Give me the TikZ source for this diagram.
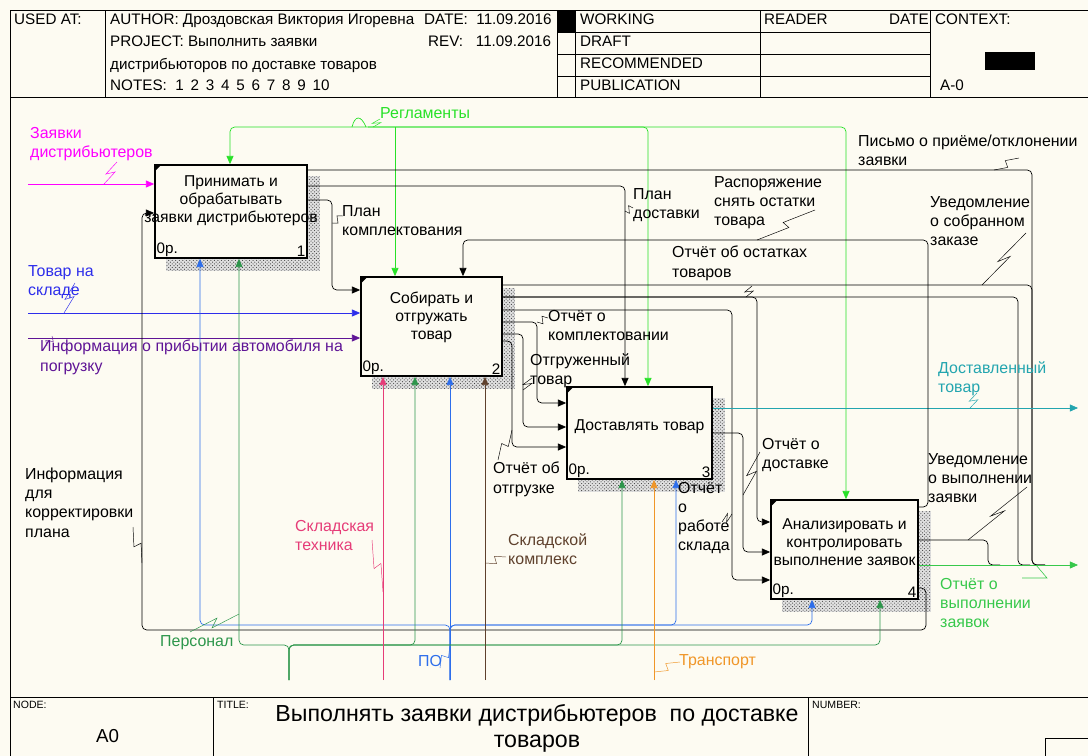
\documentclass[tikz,border=0pt]{standalone}
\usepackage{fontspec}
\setmainfont{Liberation Sans}
\usetikzlibrary{arrows.meta, calc, patterns, backgrounds, fit}

\definecolor{fondo}{RGB}{253,251,242}
\definecolor{cZayav}{RGB}{255,0,255}
\definecolor{cTovar}{RGB}{45,45,235}
\definecolor{cInfo}{RGB}{95,20,150}
\definecolor{cRegl}{RGB}{40,225,40}
\definecolor{cPers}{RGB}{45,150,75}
\definecolor{cOtch}{RGB}{55,200,75}
\definecolor{cDost}{RGB}{35,165,175}
\definecolor{cTekh}{RGB}{230,60,120}
\definecolor{cPO}{RGB}{45,110,235}
\definecolor{cKompl}{RGB}{95,65,45}
\definecolor{cTrans}{RGB}{240,150,40}

\begin{document}
\begin{tikzpicture}[
    x=0.03cm, y=-0.03cm,
    % estilos de cajas y textos
    caja/.style = {draw=black, line width=1.5pt, fill=fondo, inner sep=0pt},
    texto/.style = {align=center, inner sep=0pt, font=\fontsize{13.4}{15.5}\selectfont},
    num/.style = {inner sep=2pt, font=\fontsize{13}{14}\selectfont},
    etiq/.style = {align=left, anchor=north west, inner sep=0pt, font=\fontsize{13.6}{16.3}\selectfont},
    cab/.style = {anchor=north west, inner sep=0pt, font=\fontsize{13}{14}\selectfont},
    pie/.style = {anchor=north west, inner sep=0pt, font=\fontsize{9}{10}\selectfont},
    sombra/.style = {fill=black!12, postaction={pattern=crosshatch dots, pattern color=black!75}},
    % estilos de flechas
    flecha/.style = {line width=0.6pt, rounded corners=4pt, -{Triangle[length=7pt,width=6pt]}},
    linea/.style = {line width=0.6pt, rounded corners=4pt},
    zzv/.style = {line width=0.5pt, to path={-- ($(\tikztostart)!.55!(\tikztotarget)+(-4,0)$) -- ($(\tikztostart)!.45!(\tikztotarget)+(4,0)$) -- (\tikztotarget)}},
    zzh/.style = {line width=0.5pt, to path={-- ($(\tikztostart)!.55!(\tikztotarget)+(0,-4)$) -- ($(\tikztostart)!.45!(\tikztotarget)+(0,4)$) -- (\tikztotarget)}}
]
\useasboundingbox (0,0) rectangle (1088,756);

% ===============================
% 1. Marco, cabecera y pie
% ===============================
\draw[line width=0.8pt] (10,10) rectangle (1088,756);
\draw (10,97) -- (1088,97);
\draw (10,697) -- (1088,697);
\foreach \x in {105,557,575,760,930} \draw (\x,10) -- (\x,97);
\foreach \y in {32,54,76} \draw (557,\y) -- (930,\y);
\fill (557,10) rectangle (575,32);
\fill (985,52) rectangle (1035,70);
\foreach \x in {213,808} \draw (\x,697) -- (\x,756);
\draw (1045,738) rectangle (1088,756);

\node[cab] (hUsed) at (14,14) {USED AT:};
\node[cab] (hAut) at (110,14) {AUTHOR:\ Дроздовская Виктория Игоревна};
\node[cab] (hDat) at (424,14) {DATE:\ \ 11.09.2016};
\node[cab] (hPro) at (110,36) {PROJECT:\ Выполнить заявки};
\node[cab] (hRev) at (428,36) {REV:\ \ \ 11.09.2016};
\node[cab] (hPro2) at (110,58) {дистрибьюторов по доставке товаров};
\node[cab] (hNot) at (110,80) {NOTES:\ \ 1\ \,2\ \,3\ \,4\ \,5\ \,6\ \,7\ \,8\ \,9\ \,10};
\node[cab] (hWor) at (580,14) {WORKING};
\node[cab] (hDra) at (580,36) {DRAFT};
\node[cab] (hRec) at (580,58) {RECOMMENDED};
\node[cab] (hPub) at (580,80) {PUBLICATION};
\node[cab] (hRea) at (764,14) {READER};
\node[cab] (hDa2) at (889,14) {DATE};
\node[cab] (hCon) at (935,14) {CONTEXT:};
\node[cab] (hA0) at (940,80) {A-0};

\node[pie] (fNode) at (13,701) {NODE:};
\node[anchor=north west, inner sep=0pt, font=\fontsize{16}{18}\selectfont] (fA0) at (96,729) {A0};
\node[pie] (fTit) at (217,701) {TITLE:};
\node[anchor=north, align=center, inner sep=0pt, font=\fontsize{19.8}{22.5}\selectfont] (fTxt) at (537,704) {Выполнять заявки дистрибьютеров\ \ по доставке\\товаров};
\node[pie] (fNum) at (812,701) {NUMBER:};

% ===============================
% 2. Bloques de funciones
% ===============================
\node[caja, fit={(155,165) (307,258)}] (b1) {};
\node[caja, fit={(361,277) (502,376)}] (b2) {};
\node[caja, fit={(567,387) (712,479)}] (b3) {};
\node[caja, fit={(771,500) (918,599)}] (b4) {};

\node[texto] (t1) at ([shift={(0,-11)}]b1.center) {Принимать и\\обрабатывать\\заявки дистрибьютеров};
\node[texto] (t2) at ([shift={(0,-9)}]b2.center) {Собирать и\\отгружать\\товар};
\node[texto] (t3) at ([shift={(0,-6)}]b3.center) {Доставлять товар};
\node[texto] (t4) at ([shift={(0,-7)}]b4.center) {Анализировать и\\контролировать\\выполнение заявок};

\foreach \b/\n in {b1/1,b2/2,b3/3,b4/4} {
    \node[num, anchor=south west] (\b p) at (\b.south west) {0р.};
    \node[num, anchor=south east] (\b n) at (\b.south east) {\n};
    \fill (\b.north west) -- ++(8,0) -- ++(-8,8) -- cycle;
}

\begin{scope}[on background layer]
    \fill[fondo] (0,0) rectangle (1088,756);
    \foreach \b in {b1,b2,b3,b4} {
        \path[sombra] ([shift={(0,12)}]\b.north east) rectangle ([shift={(12,12)}]\b.south east);
        \path[sombra] ([shift={(12,0)}]\b.south west) rectangle ([shift={(12,12)}]\b.south east);
    }
\end{scope}

% ===============================
% 3. Entradas y controles externos
% ===============================
\coordinate (inZ) at (28,184);
\coordinate (inT) at (28,313);
\coordinate (inA) at (28,338);
\coordinate (srcR) at (368,127);
\draw[flecha, cZayav] (inZ) -- (b1.west |- inZ);
\draw[flecha, cTovar] (inT) -- (b2.west |- inT);
\draw[flecha, cInfo] (inA) -- (b2.west |- inA);

\draw[flecha, cRegl] (srcR) -| (b1.north -| 230,0);
\draw[flecha, cRegl] (srcR) -| (b4.north -| 846,0);
\draw[flecha, cRegl] (srcR) -| (b3.north -| 648,0);
\draw[flecha, cRegl] (srcR -| 395,0) -- (b2.north -| 395,0);
\draw[cRegl, line width=0.6pt] (352,127) .. controls (355,115) and (361,115) .. (366,127);

% ===============================
% 4. Flechas entre bloques
% ===============================
% salidas del bloque 1
\draw[linea] (b1.east |- 0,170) -| (1032,565) -- (1045,565);
\draw[flecha] (b1.east |- 0,186) -| (b3.north -| 625,0);
\draw[flecha] (b1.east |- 0,200) -| (332,290) -- (b2.west |- 0,290);

% salidas del bloque 2
\draw[linea] (b2.east |- 0,285) -| (1032,565) -- (1045,565);
\draw[flecha] (b2.east |- 0,297) -| (757,522) -- (b4.west |- 0,522);
\draw[linea] (b2.east |- 0,297) -| (1018,565) -- (1030,565);
\draw[flecha] (b2.east |- 0,310) -| (732,580) -- (b4.west |- 0,580);
\draw[flecha] (b2.east |- 0,322) -| (537,403) -- (b3.west |- 0,403);
\draw[flecha] (b2.east |- 0,334) -| (523,427) -- (b3.west |- 0,427);
\draw[flecha] (b2.east |- 0,341) -| (512,447) -- (b3.west |- 0,447);

% salidas del bloque 3
\coordinate (outD) at (1078,408);
\draw[flecha, cDost] (b3.east |- outD) -- (outD);
\draw[flecha] (b3.east |- 0,433) -| (743,552) -- (b4.west |- 0,552);

% salidas del bloque 4
\coordinate (outR) at (1078,565);
\draw[flecha] (b4.east |- 0,507) -| (928,240) -| (b2.north -| 463,0);
\draw[linea] (b4.east |- 0,540) -| (988,565) -- (1000,565);
\draw[flecha] (b4.east |- 0,588) -| (926,630) -| (142,213) -- (b1.west |- 0,213);
\draw[flecha, cOtch] (b4.east |- outR) -- (outR);

% ===============================
% 5. Mecanismos
% ===============================
\coordinate (srcP) at (289,680);
\coordinate (srcPO) at (450,680);
\coordinate (srcS) at (383,680);
\coordinate (srcK) at (485,680);
\coordinate (srcTr) at (654,680);

\foreach \b/\x in {b1/200,b3/676,b4/812}
    \draw[flecha, cPO] (srcPO) -- (450,625) -| (\b.south -| \x,0);
\draw[flecha, cPO] (srcPO) -- (b2.south -| srcPO);
\foreach \b/\x in {b1/239,b2/415,b3/622,b4/880}
    \draw[flecha, cPers] (srcP) -- (289,645) -| (\b.south -| \x,0);
\draw[flecha, cTekh] (srcS) -- (b2.south -| srcS);
\draw[flecha, cKompl] (srcK) -- (b2.south -| srcK);
\draw[flecha, cTrans] (srcTr) -- (b3.south -| srcTr);

% ===============================
% 6. Etiquetas de flechas
% ===============================
\node[etiq, cZayav] (lZ) at (30,127) {Заявки\\дистрибьютеров};
\node[etiq, cRegl] (lR) at (380,107) {Регламенты};
\node[etiq, cTovar] (lT) at (28,265) {Товар на\\складе};
\node[etiq, cInfo] (lA) at (40,340) {Информация о прибытии автомобиля на\\погрузку};
\node[etiq] (lPK) at (342,205) {План\\комплектования};
\node[etiq] (lPD) at (633,188) {План\\доставки};
\node[etiq] (lRS) at (714,176) {Распоряжение\\снять остатки\\товара};
\node[etiq] (lPS) at (858,135) {Письмо о приёме/отклонении\\заявки};
\node[etiq] (lUS) at (930,196) {Уведомление\\о собранном\\заказе};
\node[etiq] (lOO) at (672,246) {Отчёт об остатках\\товаров};
\node[etiq] (lOK) at (548,310) {Отчёт о\\комплектовании};
\node[etiq] (lOT) at (530,353) {Отгруженный\\товар};
\node[etiq] (lOG) at (493,462) {Отчёт об\\отгрузке};
\node[etiq, cDost] (lDT) at (938,361) {Доставленный\\товар};
\node[etiq] (lOD) at (762,438) {Отчёт о\\доставке};
\node[etiq] (lRSk) at (678,482) {Отчёт\\о\\работе\\склада};
\node[etiq] (lUV) at (928,453) {Уведомление\\о выполнении\\заявки};
\node[etiq, cOtch] (lOV) at (940,578) {Отчёт о\\выполнении\\заявок};
\node[etiq] (lIK) at (25,468) {Информация\\для\\корректировки\\плана};
\node[etiq, cTekh] (lST) at (295,520) {Складская\\техника};
\node[etiq, cKompl] (lSK) at (508,533) {Складской\\комплекс};
\node[etiq, cPers] (lPe) at (160,635) {Персонал};
\node[etiq, cPO] (lPO) at (418,655) {ПО};
\node[etiq, cTrans] (lTr) at (679,654) {Транспорт};

% rayos de las etiquetas
\draw[cZayav] (117,162) to[zzv] (104,184);
\draw[cRegl] (380,119) to[zzv] (373,127);
\draw[cTovar] (75,283) to[zzv] (64,313);
\draw[cInfo] (47,346) to[zzv] (52,336);
\draw (343,216) to[zzh] (332,223);
\draw (633,208) to[zzh] (625,211);
\draw (815,210) to[zzh] (757,240);
\draw (1019,158) to[zzh] (994,170);
\draw (1026,233) to[zzv] (982,285);
\draw (752,286) to[zzv] (746,297);
\draw (548,318) to[zzh] (537,322);
\draw (532,378) to[zzv] (523,390);
\draw (498,460) to[zzv] (512,430);
\draw[cDost] (977,393) to[zzv] (970,408);
\draw (760,452) to[zzv] (743,495);
\draw (722,522) to[zzh] (732,514);
\draw (1027,487) to[zzv] (968,540);
\draw[cOtch, line width=0.5pt] (1022,578) -- (1047,578) -- (1036,565);
\draw (133,527) to[zzv] (142,563);
\draw[cTekh] (372,540) to[zzv] (383,592);
\draw[cKompl] (506,557) to[zzh] (485,563);
\draw[cPers] (190,632) to[zzh] (239,614);
\draw[cPO] (440,668) to[zzv] (450,645);
\draw[cTrans] (680,662) to[zzh] (654,672);

\end{tikzpicture}
\end{document}
